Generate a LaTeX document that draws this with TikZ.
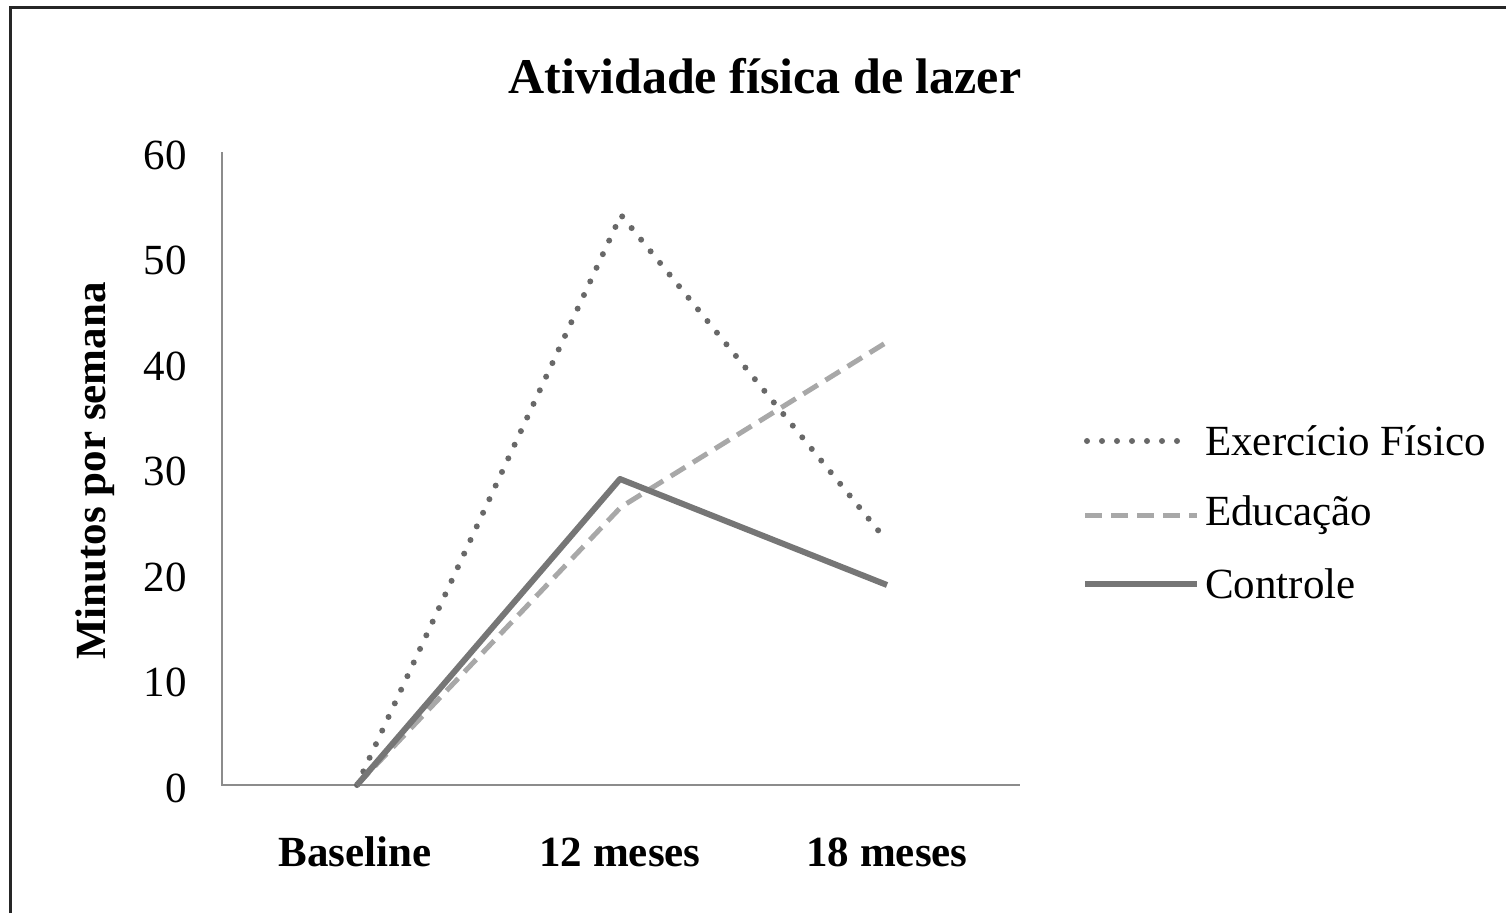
\documentclass[tikz,border=0pt]{standalone}
\usepackage{fontspec}
\setmainfont{Liberation Serif}

\definecolor{lineGrey}{HTML}{767676}
\definecolor{dotGrey}{HTML}{686868}
\definecolor{lightGrey}{HTML}{A8A8A8}
\definecolor{axisGrey}{HTML}{8C8C8C}

\tikzset{
	txt/.style={font=\fontsize{43}{50}\selectfont, inner sep=0pt},
	btxt/.style={font=\fontsize{43}{50}\selectfont\bfseries, inner sep=0pt},
	exline/.style={dotGrey, line width=6pt, line cap=round, dash pattern=on 0pt off 15pt},
	edline/.style={lightGrey, line width=5pt, dash pattern=on 17pt off 9pt},
	ctline/.style={lineGrey, line width=6pt, line join=round},
}

\begin{document}
\begin{tikzpicture}[x=1pt, y=-1pt]
		\useasboundingbox (0,0) rectangle (1506,913);
		% frame
		\draw[line width=3pt, black!85] (10,913) -- (10,7) -- (1506,7);
		
		\node[font=\fontsize{50}{56}\selectfont\bfseries, inner sep=0pt] (title) at (765,76) {Atividade física de lazer};
		
		% axes
		\coordinate (O) at (222,785);
		\coordinate (Ytop) at (222,152);
		\coordinate (Xend) at (1020,785);
		\draw[axisGrey, line width=2pt] (Ytop) -- (O) -- (Xend);
		
		\node[txt, anchor=east] (t0) at (187,788) {0};
		\node[txt, anchor=east] (t10) at (187,682) {10};
		\node[txt, anchor=east] (t20) at (187,577) {20};
		\node[txt, anchor=east] (t30) at (187,471) {30};
		\node[txt, anchor=east] (t40) at (187,366) {40};
		\node[txt, anchor=east] (t50) at (187,260) {50};
		\node[txt, anchor=east] (t60) at (187,155) {60};
		
		\node[btxt, rotate=90] (ylab) at (95,471) {Minutos por semana};
		
		\node[btxt] (cBase) at (355,852) {Baseline};
		\node[btxt] (c12) at (620,852) {12 meses};
		\node[btxt] (c18) at (887,852) {18 meses};
		
		% data points
		\coordinate (ex0) at (357,785);
		\coordinate (ex1) at (621,215);
		\coordinate (ex2) at (886,540);
		\coordinate (ed0) at (357,785);
		\coordinate (ed1) at (621,507);
		\coordinate (ed2) at (887,342);
		\coordinate (ct0) at (357,785);
		\coordinate (ct1) at (620,479);
		\coordinate (ct2) at (887,585);
		
		\draw[exline] (ex0) -- (ex1) -- (ex2);
		\draw[edline] (ed0) -- (ed1) -- (ed2);
		\draw[ctline] (ct0) -- (ct1) -- (ct2);
		
		% legend
		\coordinate (legA1) at (1087,441);
		\coordinate (legA2) at (1182,441);
		\coordinate (legB1) at (1085,515);
		\coordinate (legB2) at (1197,515);
		\coordinate (legC1) at (1085,584);
		\coordinate (legC2) at (1197,584);
		\draw[exline] (legA1) -- (legA2);
		\draw[edline] (legB1) -- (legB2);
		\draw[ctline] (legC1) -- (legC2);
		\node[txt, anchor=west] (legA) at (1205,441) {Exercício Físico};
		\node[txt, anchor=west] (legB) at (1205,515) {Educação};
		\node[txt, anchor=west] (legC) at (1205,584) {Controle};
	\end{tikzpicture}
\end{document}
